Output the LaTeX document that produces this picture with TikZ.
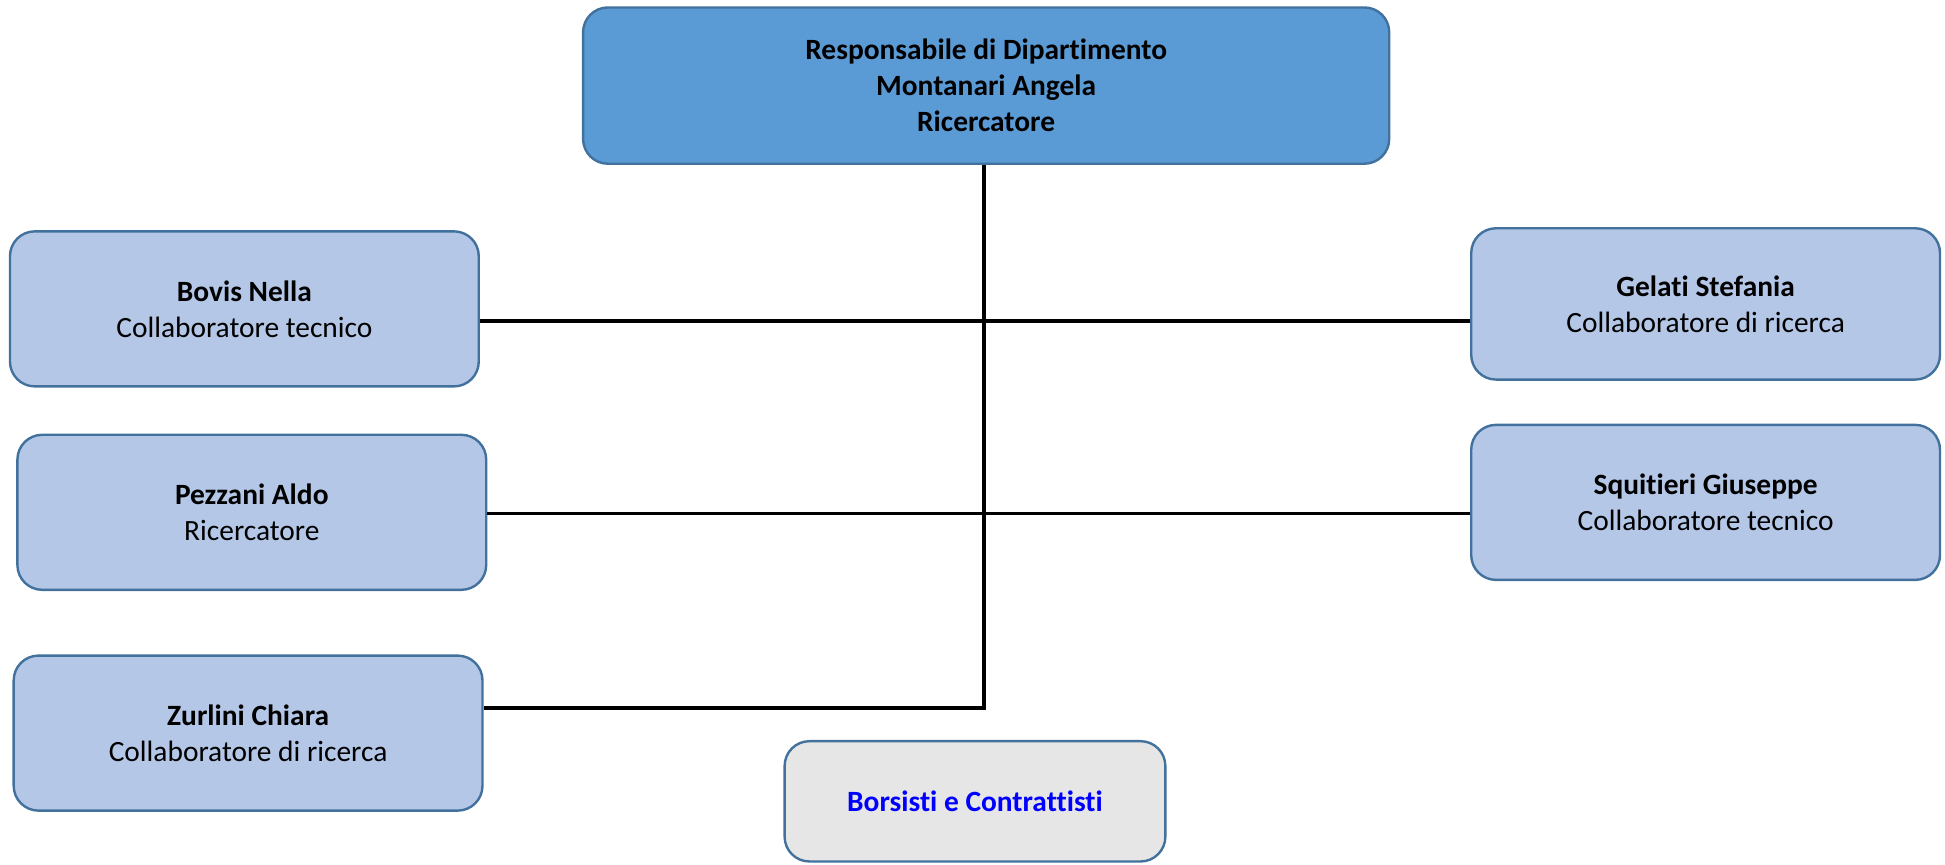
\documentclass[tikz,border=0pt]{standalone}
\usepackage{fontspec}
\setmainfont[Ligatures=NoCommon]{Carlito}
\usetikzlibrary{positioning}

\definecolor{headfill}{HTML}{5B9BD5}
\definecolor{boxfill}{HTML}{B4C7E7}
\definecolor{boxline}{HTML}{41719C}
\definecolor{greyfill}{HTML}{E7E6E6}

\tikzset{
  unit/.style={draw=boxline,line width=1.1pt,rounded corners=0.4cm,align=center,
    font=\fontsize{13.5}{16.5}\selectfont,inner sep=0pt},
  headbox/.style={unit,fill=headfill,minimum width=13cm,minimum height=2.52cm,font=\bfseries\fontsize{13.5}{16.5}\selectfont},
  staffbox/.style={unit,fill=boxfill,minimum width=7.56cm,minimum height=2.5cm},
  extrabox/.style={unit,fill=greyfill,minimum width=6.14cm,minimum height=1.94cm,text=blue,font=\bfseries\fontsize{13.5}{16.5}\selectfont},
  link/.style={line width=1.7pt}
}

\begin{document}
\begin{tikzpicture}[x=0.02cm,y=-0.02cm]
\useasboundingbox (0,0) rectangle (1568,697);

\node[headbox] (Resp) at (795,69) {Responsabile di Dipartimento\\Montanari Angela\\Ricercatore};

\node[staffbox] (Bovis) at (197,249) {\textbf{Bovis Nella}\\Collaboratore tecnico};
\node[staffbox] (Pezzani) at (203,413) {\textbf{Pezzani Aldo}\\Ricercatore};
\node[staffbox] (Zurlini) at (200,591) {\textbf{Zurlini Chiara}\\Collaboratore di ricerca};
\node[staffbox,minimum height=2.44cm] (Gelati) at (1375,245) {\textbf{Gelati Stefania}\\Collaboratore di ricerca};
\node[staffbox] (Squitieri) at (1375,405) {\textbf{Squitieri Giuseppe}\\Collaboratore tecnico};

\node[extrabox] (Borsisti) at (786,646) {Borsisti e Contrattisti};

% trunk and branches
\coordinate (row1) at (793,259);
\coordinate (row2) at (793,414);
\coordinate (row3) at (793,571);
\draw[link] (Resp.south -| row3) -- (row3) -- (Zurlini.east |- row3);
\draw[link] (Bovis.east |- row1) -- (Gelati.west |- row1);
\draw[link] (Pezzani.east |- row2) -- (Squitieri.west |- row2);
\end{tikzpicture}
\end{document}
